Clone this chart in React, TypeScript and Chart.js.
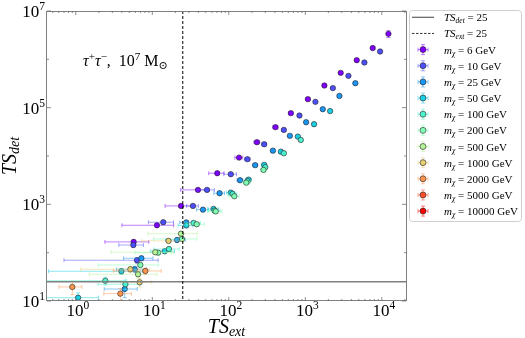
import React, { useEffect, useRef } from 'react';
import { Chart, registerables } from 'chart.js';
Chart.register(...registerables);

// [TS_ext, TS_det, TS_ext error, TS_det error]
type Pt = [number, number, number, number];

const massLabels = ['6', '10', '25', '50', '100', '200', '500', '1000', '2000', '5000', '10000'];
const massColors = ['#8000ff', '#4d4ffc', '#1a96f2', '#1acee3', '#4df2ce', '#80ffb4', '#b3f296', '#e6ce74', '#ff964f', '#ff4f28', '#ff0000'];

const m6: Pt[] = [
  [12200, 3.37e6, 600, 5.5e5], [7600, 1.71e6, 300, 1.2e5], [4700, 9.6e5, 200, 6e4],
  [2900, 5.25e5, 130, 3e4], [1775, 2.87e5, 90, 1.5e4], [1080, 1.5e5, 60, 8e3],
  [647, 7.7e4, 40, 4e3], [407, 3.95e4, 30, 2e3], [233, 1.93e4, 20, 1e3],
  [136, 9270, 16, 500], [70.6, 4400, 16, 250], [39.5, 1990, 16, 120],
  [23.7, 927, 9, 60], [11.5, 369, 7.5, 30], [5.7, 167, 3.3, 18],
];
const m10: Pt[] = [
  [9490, 1.45e6, 250, 6e4], [5920, 8.6e5, 160, 4e4], [3660, 4.55e5, 110, 2.2e4],
  [2290, 2.54e5, 80, 1.2e4], [1355, 1.32e5, 55, 7e3], [838, 6.87e4, 40, 3.5e3],
  [524, 3.47e4, 28, 1.8e3], [290, 1.75e4, 20, 900], [175, 8600, 15, 450],
  [106, 4200, 20, 230], [51.8, 1990, 13, 120], [34, 927, 6, 60],
  [13.9, 426, 5, 30], [5.65, 144, 2, 15], [6.3, 69.7, 5.6, 9],
];
const m25: Pt[] = [
  [4510, 3.21e5, 120, 1.5e4], [2790, 1.75e5, 90, 9e3], [1690, 9.3e4, 60, 5e3],
  [1024, 5.0e4, 45, 2.6e3], [628, 2.61e4, 30, 1.4e3], [377, 1.29e4, 22, 700],
  [221, 6460, 15, 350], [140, 3150, 12, 180], [75.7, 1700, 12, 100],
  [45.9, 776, 8, 50], [27.8, 422, 5, 30], [21, 183, 6, 15],
  [7.2, 76.6, 3, 8], [5.9, 45.3, 2.5, 6], [4.35, 17.7, 2, 6],
];
const m50: Pt[] = [
  [2110, 8.5e4, 70, 4e3], [1300, 4.55e4, 50, 2.4e3], [798, 2.52e4, 35, 1.3e3],
  [479, 1.23e4, 25, 650], [290, 6550, 20, 340], [181, 3240, 15, 180],
  [106, 1750, 13, 100], [63.1, 803, 10, 50], [27.8, 366, 6, 25],
  [14.5, 107, 5, 10], [3.94, 41.2, 3.5, 6], [1.07, 11.7, 0.9, 3],
];
const m100: Pt[] = [
  [873, 2.15e4, 40, 1.2e3], [524, 1.14e4, 30, 600], [299, 5860, 22, 320],
  [175, 3010, 16, 170], [112, 1640, 15, 100], [65, 741, 12, 50],
  [34.6, 412, 8, 28], [16.5, 119, 6, 12], [4.45, 22.2, 2.5, 5], [2.43, 26.3, 2.1, 5],
];
const m200: Pt[] = [
  [284, 5150, 25, 300], [169, 2810, 20, 160], [118, 1470, 18, 90],
  [67.4, 714, 14, 45], [38.1, 387, 10, 25], [24.4, 192, 14, 15],
  [11.9, 100, 6, 10], [6.97, 55.6, 5, 7],
];
const m500: Pt[] = [[23.7, 247, 15, 20], [10.9, 102, 8, 10], [6.5, 35.7, 5, 6]];
const m1000: Pt[] = [[16.3, 175, 9, 15], [5.16, 45.3, 4, 6], [6.83, 24.4, 3, 5]];
const m2000: Pt[] = [[8.1, 41.8, 5, 6], [3.82, 14.2, 1.5, 4], [0.9, 19.5, 0.3, 6]];
const m5000: Pt[] = [];
const m10000: Pt[] = [];
const series: Pt[][] = [m6, m10, m25, m50, m100, m200, m500, m1000, m2000, m5000, m10000];

const xMajorExp = [0, 1, 2, 3, 4];
const yMajorExp = [1, 3, 5, 7];
const yMinorExp = [2, 4, 6];
const tsDetLine = 25;
const tsExtLine = 25;
const xRange = [0.42, 20700];
const yRange = [10, 1e7];

const SERIF = '"Liberation Serif", "DejaVu Serif", serif';
type Seg = { t: string; size: number; italic?: boolean; dy?: number };

function setFont(ctx: CanvasRenderingContext2D, s: Seg) {
  ctx.font = `${s.italic ? 'italic ' : ''}${s.size}px ${SERIF}`;
}
function richWidth(ctx: CanvasRenderingContext2D, segs: Seg[]) {
  let w = 0;
  for (const s of segs) { setFont(ctx, s); w += ctx.measureText(s.t).width; }
  return w;
}
function drawRich(ctx: CanvasRenderingContext2D, segs: Seg[], x: number, y: number) {
  ctx.textAlign = 'left';
  ctx.textBaseline = 'alphabetic';
  for (const s of segs) {
    setFont(ctx, s);
    ctx.fillText(s.t, x, y + (s.dy || 0));
    x += ctx.measureText(s.t).width;
  }
}
function withAlpha(hex: string, a: number) {
  const r = parseInt(hex.slice(1, 3), 16), g = parseInt(hex.slice(3, 5), 16), b = parseInt(hex.slice(5, 7), 16);
  return `rgba(${r},${g},${b},${a})`;
}
function pow10Label(e: number, size: number, sup: number): Seg[] {
  return [{ t: '10', size }, { t: String(e), size: sup, dy: -size * 0.42 }];
}

function drawErrorMarker(ctx: CanvasRenderingContext2D, cx: number, cy: number, color: string) {
  ctx.strokeStyle = withAlpha(color, 0.5);
  ctx.lineWidth = 1;
  ctx.beginPath();
  ctx.moveTo(cx - 5, cy); ctx.lineTo(cx + 5, cy);
  ctx.moveTo(cx, cy - 5); ctx.lineTo(cx, cy + 5);
  ctx.moveTo(cx - 5, cy - 2); ctx.lineTo(cx - 5, cy + 2);
  ctx.moveTo(cx + 5, cy - 2); ctx.lineTo(cx + 5, cy + 2);
  ctx.moveTo(cx - 2, cy - 5); ctx.lineTo(cx + 2, cy - 5);
  ctx.moveTo(cx - 2, cy + 5); ctx.lineTo(cx + 2, cy + 5);
  ctx.stroke();
  ctx.beginPath();
  ctx.arc(cx, cy, 3, 0, Math.PI * 2);
  ctx.fillStyle = color;
  ctx.fill();
  ctx.lineWidth = 0.6;
  ctx.strokeStyle = '#222';
  ctx.stroke();
}

const customPlugin = {
  id: 'customDraw',
  beforeDatasetDraw(chart: any, args: any) {
    const i = args.index;
    const pts = series[i];
    if (!pts || !pts.length) return;
    const ctx: CanvasRenderingContext2D = chart.ctx;
    const a = chart.chartArea;
    const xs = chart.scales.x, ys = chart.scales.y;
    ctx.save();
    ctx.beginPath();
    ctx.rect(a.left, a.top, a.right - a.left, a.bottom - a.top);
    ctx.clip();
    ctx.strokeStyle = withAlpha(massColors[i], 0.5);
    ctx.lineWidth = 1;
    const cap = 2;
    for (const [x, y, ex, ey] of pts) {
      const px = xs.getPixelForValue(x), py = ys.getPixelForValue(y);
      const loX = x - ex > 0 ? xs.getPixelForValue(x - ex) : a.left - 20;
      const hiX = xs.getPixelForValue(x + ex);
      const loY = y - ey > 0 ? ys.getPixelForValue(y - ey) : a.bottom + 20;
      const hiY = ys.getPixelForValue(y + ey);
      ctx.beginPath();
      ctx.moveTo(loX, py); ctx.lineTo(hiX, py);
      ctx.moveTo(loX, py - cap); ctx.lineTo(loX, py + cap);
      ctx.moveTo(hiX, py - cap); ctx.lineTo(hiX, py + cap);
      ctx.moveTo(px, loY); ctx.lineTo(px, hiY);
      ctx.moveTo(px - cap, loY); ctx.lineTo(px + cap, loY);
      ctx.moveTo(px - cap, hiY); ctx.lineTo(px + cap, hiY);
      ctx.stroke();
    }
    ctx.restore();
  },
  afterDatasetsDraw(chart: any) {
    const ctx: CanvasRenderingContext2D = chart.ctx;
    const a = chart.chartArea;
    const xs = chart.scales.x, ys = chart.scales.y;
    ctx.save();
    const hy = ys.getPixelForValue(tsDetLine);
    ctx.strokeStyle = '#808080';
    ctx.lineWidth = 1.5;
    ctx.beginPath(); ctx.moveTo(a.left, hy); ctx.lineTo(a.right, hy); ctx.stroke();
    const vx = xs.getPixelForValue(tsExtLine);
    ctx.strokeStyle = '#000';
    ctx.lineWidth = 1;
    ctx.setLineDash([3, 2]);
    ctx.beginPath(); ctx.moveTo(vx, a.top); ctx.lineTo(vx, a.bottom); ctx.stroke();
    ctx.setLineDash([]);
    ctx.strokeStyle = '#808080';
    ctx.lineWidth = 1;
    ctx.strokeRect(Math.round(a.left) - 0.5, Math.round(a.top) + 0.5, Math.round(a.right - a.left) + 1, Math.round(a.bottom - a.top) - 1);
    ctx.strokeStyle = '#707070';
    ctx.lineWidth = 0.8;
    ctx.beginPath();
    for (let e = -1; e <= 4; e++) {
      for (let m = 1; m <= 9; m++) {
        const v = m * Math.pow(10, e);
        if (v < xRange[0] || v > xRange[1]) continue;
        const px = xs.getPixelForValue(v);
        const len = m === 1 ? 4 : 2;
        ctx.moveTo(px, a.bottom); ctx.lineTo(px, a.bottom - len);
        ctx.moveTo(px, a.top); ctx.lineTo(px, a.top + len);
      }
    }
    for (const e of yMajorExp) {
      const py = ys.getPixelForValue(Math.pow(10, e));
      ctx.moveTo(a.left, py); ctx.lineTo(a.left + 4, py);
      ctx.moveTo(a.right, py); ctx.lineTo(a.right - 4, py);
    }
    for (const e of yMinorExp) {
      const py = ys.getPixelForValue(Math.pow(10, e));
      ctx.moveTo(a.left, py); ctx.lineTo(a.left + 2, py);
      ctx.moveTo(a.right, py); ctx.lineTo(a.right - 2, py);
    }
    ctx.stroke();
    ctx.restore();
  },
  afterDraw(chart: any) {
    const ctx: CanvasRenderingContext2D = chart.ctx;
    const a = chart.chartArea;
    const xs = chart.scales.x, ys = chart.scales.y;
    ctx.save();
    ctx.fillStyle = '#000';
    for (const e of xMajorExp) {
      const segs = pow10Label(e, 17, 11.5);
      const w = richWidth(ctx, segs);
      const px = xs.getPixelForValue(Math.pow(10, e));
      drawRich(ctx, segs, px - w / 2 + 2, a.bottom + 15);
    }
    for (const e of yMajorExp) {
      const segs = pow10Label(e, 17, 11.5);
      const w = richWidth(ctx, segs);
      const py = ys.getPixelForValue(Math.pow(10, e));
      drawRich(ctx, segs, a.left - 2 - w, py + 6);
    }
    const xt: Seg[] = [{ t: 'TS', size: 20, italic: true }, { t: 'ext', size: 14, italic: true, dy: 3 }];
    const xw = richWidth(ctx, xt);
    drawRich(ctx, xt, (a.left + a.right) / 2 - xw / 2, 333);
    const yt: Seg[] = [{ t: 'TS', size: 20, italic: true }, { t: 'det', size: 14, italic: true, dy: 3 }];
    const yw = richWidth(ctx, yt);
    ctx.save();
    ctx.translate(16, (a.top + a.bottom) / 2);
    ctx.rotate(-Math.PI / 2);
    drawRich(ctx, yt, -yw / 2, 0);
    ctx.restore();
    const ann: Seg[] = [
      { t: 'τ', size: 16, italic: true }, { t: '+', size: 11, dy: -6 },
      { t: 'τ', size: 16, italic: true }, { t: '−', size: 11, dy: -6 },
      { t: ',  10', size: 16 }, { t: '7', size: 11, dy: -6 },
      { t: ' M', size: 16 }, { t: '⊙', size: 11, dy: 3 },
    ];
    drawRich(ctx, ann, 83, 66);
    const lx = 409.5, ly = 10.5, lw = 112, lh = 211;
    ctx.fillStyle = 'rgba(255,255,255,0.85)';
    ctx.strokeStyle = '#d0d0d0';
    ctx.lineWidth = 1;
    ctx.beginPath();
    (ctx as any).roundRect ? (ctx as any).roundRect(lx, ly, lw, lh, 3) : ctx.rect(lx, ly, lw, lh);
    ctx.fill();
    ctx.stroke();
    const rowY = (k: number) => 17.3 + 16.15 * k;
    const textX = 444;
    ctx.strokeStyle = '#606060';
    ctx.lineWidth = 1.2;
    ctx.beginPath(); ctx.moveTo(412, rowY(0)); ctx.lineTo(434, rowY(0)); ctx.stroke();
    ctx.strokeStyle = '#000';
    ctx.lineWidth = 0.8;
    ctx.setLineDash([2.5, 1.5]);
    ctx.beginPath(); ctx.moveTo(412, rowY(1)); ctx.lineTo(434, rowY(1)); ctx.stroke();
    ctx.setLineDash([]);
    ctx.fillStyle = '#000';
    drawRich(ctx, [{ t: 'TS', size: 11, italic: true }, { t: 'det', size: 7.5, italic: true, dy: 2 }, { t: ' = 25', size: 11 }], textX, rowY(0) + 4);
    drawRich(ctx, [{ t: 'TS', size: 11, italic: true }, { t: 'ext', size: 7.5, italic: true, dy: 2 }, { t: ' = 25', size: 11 }], textX, rowY(1) + 4);
    massLabels.forEach((m, k) => {
      const cy = rowY(k + 2);
      drawErrorMarker(ctx, 423, cy, massColors[k]);
      ctx.fillStyle = '#000';
      drawRich(ctx, [
        { t: 'm', size: 11, italic: true }, { t: 'χ', size: 7.5, italic: true, dy: 2 },
        { t: ' = ' + m + ' GeV', size: 11 },
      ], textX, cy + 4);
    });
    ctx.restore();
  },
};

export default function App() {
  const ref = useRef<HTMLCanvasElement | null>(null);
  useEffect(() => {
    if (!ref.current) return;
    const datasets = series.map((pts, i) => ({
      label: 'm_χ = ' + massLabels[i] + ' GeV',
      data: pts.map((p) => ({ x: p[0], y: p[1] })),
      backgroundColor: massColors[i],
      borderColor: '#222',
      borderWidth: 0.6,
      pointRadius: 2.7,
      pointHoverRadius: 2.7,
      order: -i,
    }));
    const chart = new Chart(ref.current, {
      type: 'scatter',
      data: { datasets },
      options: {
        animation: false,
        responsive: false,
        maintainAspectRatio: false,
        layout: { padding: { left: 47, top: 11, right: 119, bottom: 37 } },
        plugins: { legend: { display: false }, tooltip: { enabled: false } },
        scales: {
          x: { type: 'logarithmic', min: xRange[0], max: xRange[1], display: false },
          y: { type: 'logarithmic', min: yRange[0], max: yRange[1], display: false },
        },
      },
      plugins: [customPlugin],
    });
    return () => chart.destroy();
  }, []);
  return (
    <div style={{ position: 'fixed', left: 0, top: 0, width: 525, height: 338, background: '#fff' }}>
      <canvas ref={ref} width={525} height={338} style={{ width: 525, height: 338 }} />
    </div>
  );
}
